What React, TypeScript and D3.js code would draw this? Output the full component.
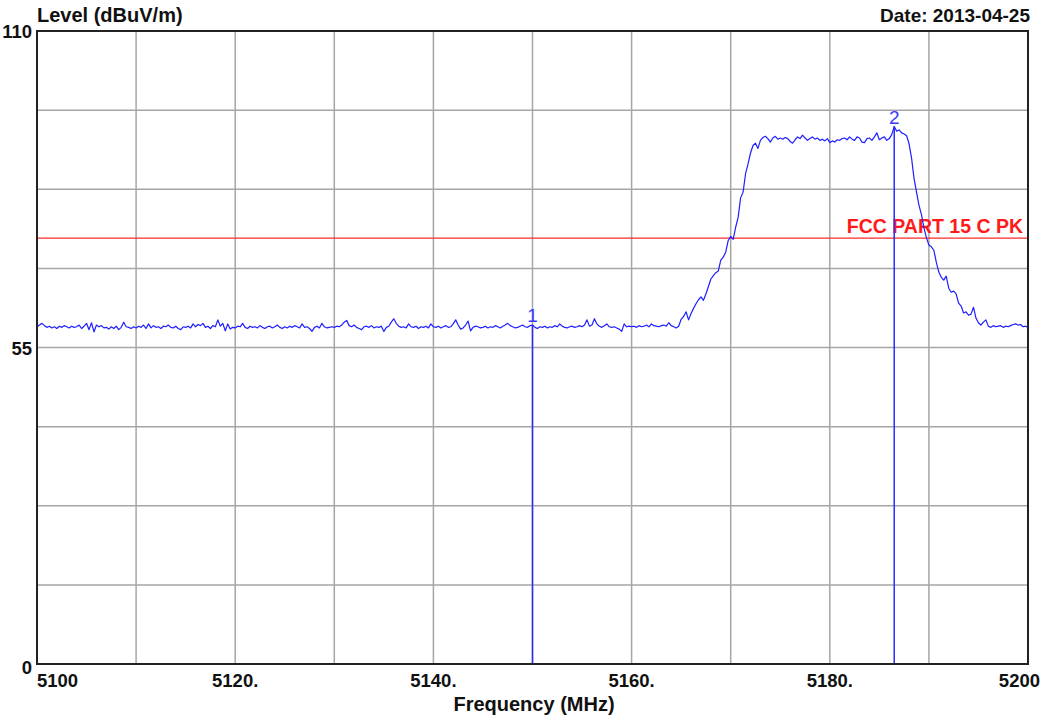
import React from "react";
import * as d3 from "d3";

// spectrum trace, 0.25 MHz steps from 5100 to 5200 MHz (dBuV/m)
const startFreq = 5100;
const stepFreq = 0.25;
const levels = [
  58.6, 58.9, 59.2, 58.8, 58.5, 58.7, 58.4, 58.6, 58.3, 58.7, 58.5, 58.8, 58.6, 58.4, 58.7, 58.5, 58.6, 58.9, 58.3, 58.7,
  59.2, 58.1, 59.3, 57.7, 58.9, 58.6, 58.8, 58.4, 58.5, 58.2, 58.6, 58.3, 58.7, 58.1, 58.5, 59.4, 58.6, 58.5, 58.3, 58.6,
  58.4, 58.7, 58.5, 58.9, 58.3, 59.1, 58.4, 58.8, 58.5, 58.6, 58.3, 58.7, 58.6, 58.9, 58.5, 58.4, 58.7, 58.3, 58.1, 58.6,
  58.5, 58.7, 58.4, 59.1, 58.6, 59.0, 58.8, 59.2, 58.5, 58.7, 58.3, 58.8, 58.6, 59.8, 58.7, 59.2, 57.9, 59.1, 58.2, 58.5,
  58.4, 58.7, 58.6, 59.2, 58.5, 58.3, 58.7, 58.5, 58.6, 58.4, 58.8, 58.5, 58.3, 58.6, 58.7, 58.4, 58.6, 58.9, 58.5, 58.3,
  58.6, 58.4, 58.7, 58.5, 58.8, 58.6, 58.4, 59.1, 58.5, 58.6, 58.3, 57.8, 58.5, 58.7, 58.4, 59.2, 58.6, 58.4, 58.5, 58.6,
  58.5, 58.7, 58.6, 58.9, 59.4, 59.7, 58.8, 58.6, 58.9, 58.5, 58.3, 58.1, 58.6, 58.7, 58.5, 58.8, 58.4, 58.6, 58.5, 58.7,
  57.8, 58.5, 58.7, 59.4, 60.0, 59.2, 58.7, 58.5, 58.6, 58.4, 59.1, 58.6, 58.5, 58.7, 58.3, 58.6, 58.5, 58.7, 58.4, 59.1,
  58.6, 58.5, 58.7, 58.4, 58.6, 58.8, 58.5, 58.6, 59.1, 59.8, 58.9, 58.2, 58.4, 58.9, 59.6, 57.9, 58.5, 58.7, 58.6, 58.4,
  58.5, 58.7, 58.4, 58.6, 58.5, 58.8, 58.6, 58.4, 58.7, 58.9, 59.2, 58.8, 58.6, 58.4, 58.5, 58.7, 58.9, 58.6, 58.5, 58.8,
  58.9, 58.5, 58.3, 58.6, 58.5, 58.7, 58.4, 58.6, 58.5, 58.8, 58.6, 59.1, 58.7, 58.5, 58.4, 58.6, 58.7, 58.5, 58.6, 58.8,
  58.6, 58.9, 59.8, 58.7, 58.9, 60.0, 59.1, 58.7, 58.5, 58.8, 59.1, 58.6, 58.5, 58.6, 58.4, 58.2, 57.8, 59.1, 58.6, 58.7,
  58.6, 58.7, 58.5, 58.8, 58.6, 58.7, 58.9, 58.6, 59.1, 58.8, 58.7, 58.6, 58.8, 58.9, 58.7, 59.3, 58.8, 58.6, 58.4, 58.7,
  59.9, 60.4, 61.2, 59.8, 60.9, 61.8, 62.6, 63.3, 63.8, 63.2, 64.3, 65.6, 66.9, 67.5, 68.0, 68.3, 70.2, 70.7, 71.6, 73.6,
  74.3, 73.8, 75.9, 77.6, 81.0, 82.0, 85.2, 86.9, 88.8, 90.1, 90.5, 89.6, 91.0, 91.5, 91.7, 91.3, 90.7, 91.4, 91.7, 91.2,
  91.4, 91.2, 91.5, 91.3, 90.8, 90.5, 91.1, 91.6, 91.3, 91.9, 91.4, 91.0, 91.3, 91.6, 91.2, 91.4, 91.0, 91.2, 90.9, 91.3,
  90.6, 90.9, 90.7, 91.1, 91.0, 91.3, 91.4, 91.1, 91.6, 91.2, 91.0, 91.6, 91.4, 90.7, 90.6, 91.3, 91.4, 91.0, 91.6, 92.3,
  91.1, 91.4, 91.6, 91.0, 91.3, 92.0, 93.4, 92.6, 92.8, 92.3, 92.1, 91.8, 90.4, 87.9, 84.4, 82.0, 79.7, 78.1, 75.8, 74.1,
  72.8, 72.5, 71.9, 69.8, 68.1, 67.2, 66.7, 67.4, 65.3, 64.6, 64.8, 64.3, 62.7, 62.2, 61.0, 61.2, 60.6, 60.8, 62.0, 60.1,
  59.3, 58.9, 59.4, 59.8, 58.7, 58.5, 58.8, 58.6, 58.7, 58.8, 58.5, 58.7, 58.6, 58.8, 59.0, 59.1, 58.9, 59.0, 58.6, 58.7,
  58.5,
];

const limitLevel = 74;
const limitLabel = "FCC PART 15 C PK";
const markerFreqs = [5150, 5186.5];
const markerLabels = ["1", "2"];
const xTickValues = [5100, 5120, 5140, 5160, 5180, 5200];
const xTickLabels = ["5100", "5120.", "5140.", "5160.", "5180.", "5200"];
const yTickValues = [0, 55, 110];
const yTickLabels = ["0", "55", "110"];

const W = 1045;
const H = 715;
const left = 37;
const right = 1028;
const top = 31;
const bottom = 664;
const font = "'Liberation Sans', Arial, sans-serif";
const blue = "#1f1fff";

export default function App() {
  const x = d3.scaleLinear().domain([5100, 5200]).range([left, right]);
  const y = d3.scaleLinear().domain([0, 110]).range([bottom, top]);

  const data = levels.map((v, i) => ({ f: startFreq + i * stepFreq, v }));
  const line = d3
    .line<{ f: number; v: number }>()
    .x((d) => x(d.f))
    .y((d) => y(d.v));

  const levelAt = (f: number) => {
    const i = Math.round((f - startFreq) / stepFreq);
    return levels[i];
  };

  const xGrid = d3.range(5100, 5201, 10);
  const yGrid = d3.range(0, 110.01, 110 / 8);

  return (
    <div style={{ position: "absolute", left: 0, top: 0 }}>
      <svg width={W} height={H} style={{ display: "block", background: "#fff" }}>
        {/* grid */}
        {xGrid.map((f) => (
          <line key={"gx" + f} x1={x(f)} x2={x(f)} y1={top} y2={bottom} stroke="#a6a6a6" strokeWidth={1.5} />
        ))}
        {yGrid.map((v) => (
          <line key={"gy" + v} x1={left} x2={right} y1={y(v)} y2={y(v)} stroke="#a6a6a6" strokeWidth={1.5} />
        ))}

        {/* limit line */}
        <line x1={left} x2={right} y1={y(limitLevel)} y2={y(limitLevel)} stroke="#ff2a2a" strokeWidth={1.3} />
        <text x={1023} y={y(limitLevel) - 5} textAnchor="end" fontFamily={font} fontWeight="bold" fontSize={19.5} fill="#ff1a1a">
          {limitLabel}
        </text>

        {/* trace */}
        <path d={line(data) || ""} fill="none" stroke={blue} strokeWidth={1.2} strokeLinejoin="round" />

        {/* markers */}
        {markerFreqs.map((f, i) => (
          <g key={"m" + i}>
            <line x1={x(f)} x2={x(f)} y1={y(levelAt(f))} y2={bottom} stroke="#2a2aff" strokeWidth={1.5} />
            <text x={x(f)} y={y(levelAt(f)) - 3} textAnchor="middle" fontFamily={font} fontSize={19} fill="#3a3aff">
              {markerLabels[i]}
            </text>
          </g>
        ))}

        {/* frame */}
        <rect x={left} y={top} width={right - left} height={bottom - top} fill="none" stroke="#222" strokeWidth={2} />

        {/* y ticks */}
        {yTickValues.map((v, i) => (
          <text key={"yt" + v} x={32} y={y(v) + (v === 0 ? 10 : 7)} textAnchor="end" fontFamily={font} fontWeight="bold" fontSize={18.5} fill="#111">
            {yTickLabels[i]}
          </text>
        ))}

        {/* x ticks */}
        {xTickValues.map((f, i) => {
          const anchor = i === 0 ? "start" : i === xTickValues.length - 1 ? "end" : "middle";
          const tx = i === 0 ? left : i === xTickValues.length - 1 ? 1040 : x(f);
          return (
            <text key={"xt" + f} x={tx} y={687} textAnchor={anchor} fontFamily={font} fontWeight="bold" fontSize={18.5} fill="#111">
              {xTickLabels[i]}
            </text>
          );
        })}

        {/* titles */}
        <text x={left} y={21.5} fontFamily={font} fontWeight="bold" fontSize={20} fill="#111">
          Level (dBuV/m)
        </text>
        <text x={1030} y={21.5} textAnchor="end" fontFamily={font} fontWeight="bold" fontSize={19} fill="#111">
          Date: 2013-04-25
        </text>
        <text x={534} y={711} textAnchor="middle" fontFamily={font} fontWeight="bold" fontSize={20} fill="#111">
          Frequency (MHz)
        </text>
      </svg>
    </div>
  );
}
